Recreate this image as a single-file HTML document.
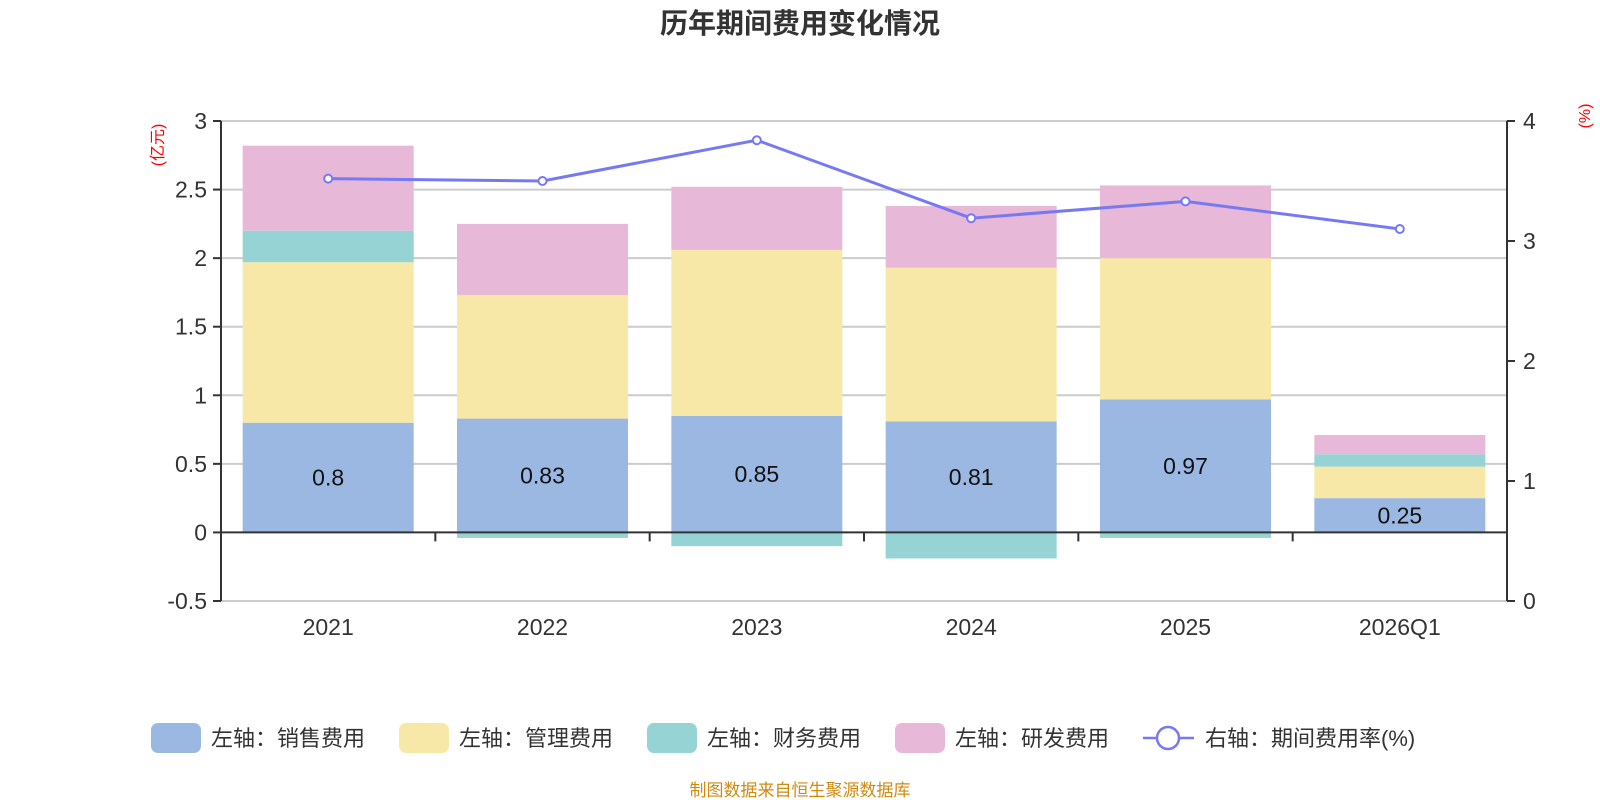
<!DOCTYPE html>
<html><head><meta charset="utf-8"><style>
html,body{margin:0;padding:0;background:#fff;}
svg{display:block;font-family:"Liberation Sans","Noto Sans CJK SC",sans-serif;}
</style></head><body>
<svg id="chart" width="1600" height="800" viewBox="0 0 1600 800">
<text x="800" y="33" text-anchor="middle" font-size="28" font-weight="bold" fill="#333">历年期间费用变化情况</text>
<text transform="translate(163,145) rotate(-90)" text-anchor="middle" font-size="16" fill="#f00">(亿元)</text>
<text transform="translate(1590,116) rotate(-90)" text-anchor="middle" font-size="16" fill="#f00">(%)</text>
<g id="grid"></g><g id="bars"></g><g id="axes"></g><g id="line"></g>
<g font-size="22" fill="#333">
<g><rect x="151" y="723" width="50" height="30" rx="7" fill="#9bb8e2"/><text x="211" y="746">左轴：销售费用</text></g>
<g><rect x="399" y="723" width="50" height="30" rx="7" fill="#f8e8a8"/><text x="459" y="746">左轴：管理费用</text></g>
<g><rect x="647" y="723" width="50" height="30" rx="7" fill="#96d3d4"/><text x="707" y="746">左轴：财务费用</text></g>
<g><rect x="895" y="723" width="50" height="30" rx="7" fill="#e8b8d8"/><text x="955" y="746">左轴：研发费用</text></g>
<g><line x1="1143" y1="738" x2="1194" y2="738" stroke="#7779f3" stroke-width="2.5"/><circle cx="1168" cy="738" r="11" fill="#fff" stroke="#7779f3" stroke-width="2.5"/><text x="1205" y="746">右轴：期间费用率(%)</text></g>
</g>
<text x="800" y="796" text-anchor="middle" font-size="17" fill="#d08a10">制图数据来自恒生聚源数据库</text>
</svg>
<script>
const categories=["2021","2022","2023","2024","2025","2026Q1"];
const sales=[0.8,0.83,0.85,0.81,0.97,0.25];
const management=[1.17,0.90,1.21,1.12,1.03,0.23];
const finance=[0.23,-0.04,-0.10,-0.19,-0.04,0.09];
const rnd=[0.62,0.52,0.46,0.45,0.53,0.14];
const rate=[3.52,3.50,3.84,3.19,3.33,3.10];
const leftTicks=[-0.5,0,0.5,1,1.5,2,2.5,3];
const rightTicks=[0,1,2,3,4];

const NS="http://www.w3.org/2000/svg";
const X0=221,X1=1507,band=(X1-X0)/categories.length,barW=171;
const yL=v=>601-(v+0.5)*(480/3.5);
const yR=v=>601-v*120;
const xC=i=>X0+band*(i+0.5);
function mk(tag,attrs,parent,txt){const e=document.createElementNS(NS,tag);for(const k in attrs)e.setAttribute(k,attrs[k]);if(txt!==undefined)e.textContent=txt;parent.appendChild(e);return e;}
const grid=document.getElementById('grid'),bars=document.getElementById('bars'),axes=document.getElementById('axes'),lineG=document.getElementById('line');
leftTicks.forEach(t=>{
 const y=yL(t);
 if(t!==0){const g=mk('line',{x1:X0,x2:X1,y1:y,y2:y,stroke:'#ccc','stroke-width':2},grid);
 
 }
 mk('line',{x1:X0-8,x2:X0,y1:y,y2:y,stroke:'#333','stroke-width':2},axes);
 const l=mk('text',{x:X0-14,y:y+8,'text-anchor':'end','font-size':23,fill:'#333'},axes,String(t));
 
 
});
rightTicks.forEach(t=>{
 const y=yR(t);
 mk('line',{x1:X1,x2:X1+8,y1:y,y2:y,stroke:'#333','stroke-width':2},axes);
 const l=mk('text',{x:X1+16,y:y+8,'font-size':23,fill:'#333'},axes,String(t));
 
 
});
const series=[[sales,'#9bb8e2','bar-sales'],[management,'#f8e8a8','bar-management'],[finance,'#96d3d4','bar-finance'],[rnd,'#e8b8d8','bar-rnd']];
categories.forEach((c,i)=>{
 let pos=0,neg=0;
 series.forEach(([arr,col,nm])=>{
  const v=arr[i];let a,b;
  if(v>=0){a=pos;b=pos+v;pos=b;}else{a=neg;b=neg+v;neg=b;}
  const yt=yL(Math.max(a,b)),yb=yL(Math.min(a,b));
  const r=mk('rect',{x:xC(i)-barW/2,y:yt,width:barW,height:yb-yt,fill:col},bars);
  
  
 });
 const lb=mk('text',{x:xC(i),y:yL(sales[i]/2)+8,'text-anchor':'middle','font-size':23,fill:'#111'},bars,String(sales[i]));
 
 
 const cl=mk('text',{x:xC(i),y:yL(-0.5)+34,'text-anchor':'middle','font-size':23,fill:'#333'},axes,c);
 
 
 if(i>0)mk('line',{x1:X0+band*i,x2:X0+band*i,y1:yL(0),y2:yL(0)+9,stroke:'#333','stroke-width':2},axes);
});
mk('line',{x1:X0,x2:X0,y1:yL(3),y2:yL(-0.5),stroke:'#333','stroke-width':2},axes);
mk('line',{x1:X1,x2:X1,y1:yR(4),y2:yR(0),stroke:'#333','stroke-width':2},axes);
const xa=mk('line',{x1:X0,x2:X1,y1:yL(0),y2:yL(0),stroke:'#333','stroke-width':2},axes);


const pl=mk('polyline',{points:rate.map((v,i)=>xC(i)+','+yR(v)).join(' '),fill:'none',stroke:'#7779f3','stroke-width':3},lineG);


rate.forEach((v,i)=>{
 const p=mk('circle',{cx:xC(i),cy:yR(v),r:4,fill:'#fff',stroke:'#7779f3','stroke-width':2},lineG);
 
 
});
</script>
</body></html>
